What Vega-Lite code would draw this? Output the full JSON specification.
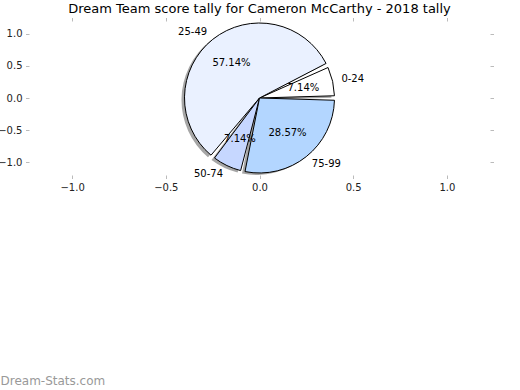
{
  "$schema": "https://vega.github.io/schema/vega-lite/v6.json",
  "width": 461,
  "height": 154,
  "autosize": "none",
  "padding": {"left": 29, "top": 21, "right": 30, "bottom": 215},
  "background": "white",
  "title": {
    "text": "Dream Team score tally for Cameron McCarthy - 2018 tally",
    "fontSize": 13,
    "font": "DejaVu Sans",
    "fontWeight": "normal",
    "color": "black",
    "anchor": "middle",
    "offset": 1
  },
  "config": {
    "view": {"stroke": null},
    "axis": {
      "domain": false,
      "grid": false,
      "tickColor": "#bbbbbb",
      "tickSize": 3.5,
      "tickWidth": 1,
      "labelFont": "DejaVu Sans",
      "labelFontSize": 10,
      "labelColor": "#222222",
      "labelPadding": 3.5
    }
  },
  "data": {
    "values": [
      {"range": "0-24", "tally": 1, "share": 0.071429},
      {"range": "25-49", "tally": 8, "share": 0.571429},
      {"range": "50-74", "tally": 1, "share": 0.071429},
      {"range": "75-99", "tally": 4, "share": 0.285714}
    ]
  },
  "layer": [
    {
      "mark": {"type": "point", "opacity": 0},
      "encoding": {
        "x": {
          "datum": 0,
          "type": "quantitative",
          "scale": {"domain": [-1.23, 1.23], "nice": false, "zero": false},
          "axis": {
            "orient": "bottom",
            "values": [-1, -0.5, 0, 0.5, 1],
            "format": ".1f",
            "title": "Dream-Stats.com",
            "titleX": -29,
            "titleY": 205,
            "titleAlign": "left",
            "titleAnchor": null,
            "titleBaseline": "middle",
            "titleColor": "#999999",
            "titleFontSize": 12,
            "titleFontWeight": "normal",
            "titleFont": "DejaVu Sans"
          }
        },
        "y": {
          "datum": 0,
          "type": "quantitative",
          "scale": {"domain": [-1.2, 1.2], "nice": false, "zero": false},
          "axis": {"orient": "left", "values": [-1, -0.5, 0, 0.5, 1], "format": ".1f", "title": null}
        }
      }
    },
    {
      "mark": {"type": "point", "opacity": 0},
      "encoding": {
        "x": {
          "datum": 0,
          "type": "quantitative",
          "axis": {"orient": "top", "values": [-1, -0.5, 0, 0.5, 1], "labels": false, "title": null}
        },
        "y": {
          "datum": 0,
          "type": "quantitative",
          "axis": {"orient": "right", "values": [-1, -0.5, 0, 0.5, 1], "labels": false, "title": null}
        }
      }
    },
    {
      "mark": {"type": "arc", "radius": 75, "padAngle": 0.06, "xOffset": -3, "yOffset": 2, "fill": "#4d4d4d", "fillOpacity": 0.5, "strokeWidth": 0},
      "encoding": {
        "theta": {"field": "share", "type": "quantitative", "stack": true, "scale": {"range": [1.5707963, -4.712389]}},
        "order": {"field": "range", "type": "ordinal"}
      }
    },
    {
      "mark": {"type": "arc", "radius": 75, "padAngle": 0.06, "stroke": "black", "strokeWidth": 1},
      "encoding": {
        "theta": {"field": "share", "type": "quantitative", "stack": true},
        "order": {"field": "range", "type": "ordinal"},
        "color": {
          "field": "range",
          "type": "nominal",
          "scale": {"domain": ["0-24", "25-49", "50-74", "75-99"], "range": ["#ffffff", "#eaf1ff", "#c6d7ff", "#b3d6ff"]},
          "legend": null
        }
      }
    },
    {
      "mark": {"type": "text", "radius": 45, "font": "DejaVu Sans", "fontSize": 10, "color": "black"},
      "encoding": {
        "theta": {"field": "share", "type": "quantitative", "stack": true},
        "order": {"field": "range", "type": "ordinal"},
        "text": {"field": "share", "type": "quantitative", "format": ".2%"}
      }
    },
    {
      "mark": {
        "type": "text",
        "radius": 84,
        "font": "DejaVu Sans",
        "fontSize": 10,
        "color": "black",
        "align": {"expr": "((datum.share_start + datum.share_end) / 2 > 0.25 && (datum.share_start + datum.share_end) / 2 < 0.75) ? 'right' : 'left'"}
      },
      "encoding": {
        "theta": {"field": "share", "type": "quantitative", "stack": true},
        "order": {"field": "range", "type": "ordinal"},
        "text": {"field": "range", "type": "nominal"}
      }
    }
  ],
  "resolve": {"axis": {"x": "independent", "y": "independent"}}
}
